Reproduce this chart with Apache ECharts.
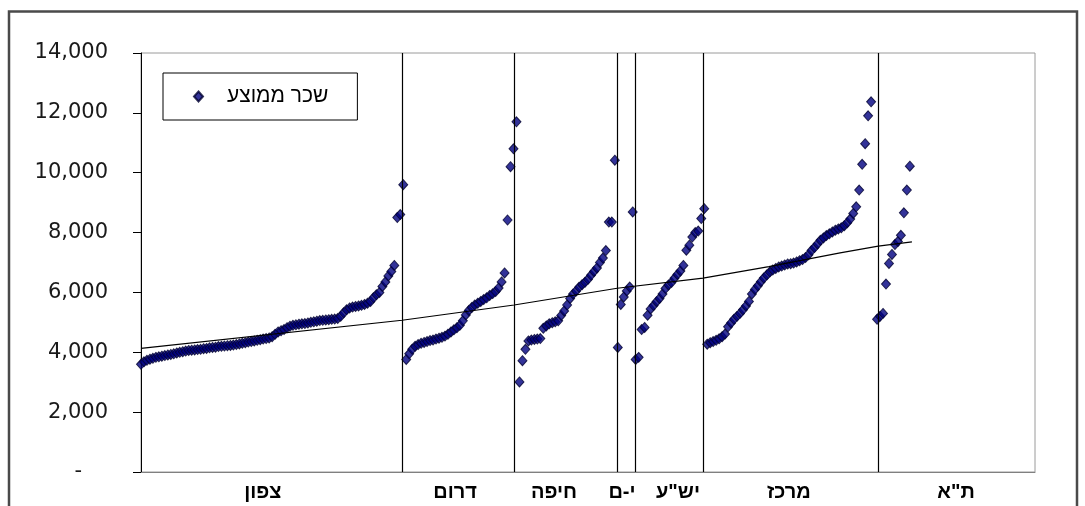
<!DOCTYPE html>
<html><head><meta charset="utf-8">
<script src="https://cdn.jsdelivr.net/npm/echarts@6/dist/echarts.min.js"></script>
<style>html,body{margin:0;padding:0;background:#fff}#c{width:1085px;height:506px}</style>
</head><body><div id="c"></div>
<script>
// region names (as shown below the axis) and their label centres on the rank axis
const regionNames = ['צפון', 'דרום', 'חיפה', 'י-ם', 'יש"ע', 'מרכז', 'ת"א'];
const labelPos = [40.9, 105.4, 138.6, 161.4, 180.2, 217.4, 273.5];
// rank index of the first locality of each region
const regionStart = [0, 89, 127, 160, 166, 190, 247];
// region separators on the rank axis
const separators = [87.6, 125.2, 159.8, 165.9, 188.6, 247.3];

// average wage per locality, sorted inside each region
const north = [3600,3680,3730,3770,3800,3830,3850,3870,3890,3910,
  3930,3950,3980,4000,4020,4040,4060,4070,4080,4090,
  4100,4120,4130,4150,4160,4170,4190,4200,4210,4220,
  4230,4240,4260,4280,4300,4320,4340,4360,4380,4400,
  4420,4440,4460,4480,4520,4600,4680,4720,4760,4820,
  4870,4900,4920,4940,4950,4960,4980,5000,5020,5040,
  5060,5070,5080,5090,5100,5110,5130,5200,5320,5420,
  5480,5510,5530,5550,5570,5600,5640,5700,5820,5920,
  6000,6200,6350,6550,6700,6900,8500,8600,9600];
const south = [3760,3950,4100,4200,4260,4300,4330,4360,4390,4410,
  4440,4470,4500,4540,4600,4680,4750,4820,4900,5050,
  5250,5400,5500,5580,5640,5700,5760,5820,5900,5960,
  6030,6150,6350,6650,8420,10200,10800,11700];
const haifa = [3010,3720,4100,4380,4410,4430,4440,4460,4800,4880,
  4950,4990,5020,5050,5230,5380,5580,5800,5950,6050,
  6170,6260,6340,6440,6570,6700,6820,7000,7150,7400,
  8350,8350,10420];
const jerusalem = [4160,5600,5850,6050,6180,8690];
const yesha = [3760,3830,4760,4830,5240,5450,5560,5690,5800,5950,
  6130,6250,6330,6470,6600,6720,6900,7410,7580,7850,
  8000,8050,8470,8800];
const center = [4270,4320,4360,4400,4450,4520,4610,4850,4980,5100,
  5200,5300,5420,5550,5700,5950,6100,6220,6360,6480,
  6580,6680,6750,6800,6850,6880,6920,6950,6960,6980,
  7020,7060,7100,7170,7260,7400,7500,7620,7740,7820,
  7900,7960,8020,8080,8120,8160,8230,8330,8450,8640,
  8860,9420,10280,10970,11900,12370];
const telAviv = [5100,5200,5300,6280,6970,7270,7600,7700,7910,8660,9420,10220];

// trend line
const trendX = [0, 87.6, 125.2, 159.8, 188.6, 210.7, 234.6, 247.4, 258.7];
const trendY = [4130, 5070, 5580, 6140, 6480, 6860, 7320, 7550, 7690];

const yTicks = [0, 2000, 4000, 6000, 8000, 10000, 12000, 14000];
const seriesName = 'שכר ממוצע';

const regions = [north, south, haifa, jerusalem, yesha, center, telAviv];
const scatterData = [];
regions.forEach((arr, r) => arr.forEach((v, i) => scatterData.push([regionStart[r] + i, v])));

const chart = echarts.init(document.getElementById('c'), null, {renderer: 'canvas'});
const numFont = 'DejaVu Sans';
const hebFont = '"Liberation Sans", "DejaVu Sans", sans-serif';

chart.setOption({
  animation: false,
  backgroundColor: '#fff',
  grid: {left: 141, right: 50, top: 53, bottom: 34, show: true, borderColor: '#9a9a9a', borderWidth: 1, backgroundColor: '#fff'},
  xAxis: {
    type: 'value', min: 0, max: 300,
    axisLine: {show: true, onZero: false, lineStyle: {color: '#808080', width: 1}},
    axisTick: {show: false}, axisLabel: {show: false}, splitLine: {show: false}
  },
  yAxis: {
    type: 'value', min: yTicks[0], max: yTicks[yTicks.length - 1], interval: yTicks[1] - yTicks[0],
    axisLine: {show: true, lineStyle: {color: '#000', width: 1}},
    axisTick: {show: true, length: 8, lineStyle: {color: '#000', width: 1}},
    splitLine: {show: false},
    axisLabel: {
      margin: 33, fontFamily: numFont, fontSize: 21, color: '#1a1a1a',
      formatter: v => v === 0 ? '{d|-}' : v.toLocaleString('en-US'),
      rich: {d: {fontFamily: numFont, fontSize: 21, color: '#1a1a1a', padding: [0, 26, 0, 0]}}
    }
  },
  legend: {
    data: [{name: seriesName, icon: 'diamond'}],
    left: 163, top: 73, orient: 'horizontal',
    padding: [13, 29, 13, 30], itemWidth: 9, itemHeight: 10, itemGap: 0,
    borderColor: '#000', borderWidth: 1, backgroundColor: '#fff',
    selectedMode: false,
    textStyle: {fontFamily: hebFont, fontSize: 21, color: '#000', padding: [0, 0, 0, 19]}
  },
  series: [
    {
      name: seriesName, type: 'scatter', data: scatterData,
      symbol: 'diamond', symbolSize: [9, 10], z: 2,
      itemStyle: {color: '#000080', borderColor: '#000030', borderWidth: 1}
    },
    {
      name: 'trend', type: 'line', data: trendX.map((x, i) => [x, trendY[i]]),
      showSymbol: false, symbol: 'none', z: 3,
      lineStyle: {color: '#000', width: 1.2}
    },
    {
      name: 'separators', type: 'line', data: [], z: 4,
      markLine: {
        silent: true, symbol: ['none', 'none'], label: {show: false},
        lineStyle: {color: '#000', width: 1.2, type: 'solid'},
        data: separators.map(v => ({xAxis: v}))
      }
    }
  ]
});

const graphics = [{
  type: 'rect', silent: true, z: 100,
  shape: {x: 9, y: 11.5, width: 1068, height: 600},
  style: {fill: 'none', stroke: '#4a4a4a', lineWidth: 2.5}
}];
regionNames.forEach((n, i) => {
  const p = chart.convertToPixel({gridIndex: 0}, [labelPos[i], 0]);
  graphics.push({
    type: 'text', silent: true, x: p[0], y: p[1] + 20,
    style: {text: n, fontFamily: hebFont, fontSize: 20, fontWeight: 'bold', fill: '#000', align: 'center', verticalAlign: 'middle'}
  });
});
chart.setOption({graphic: graphics});
</script>
</body></html>
